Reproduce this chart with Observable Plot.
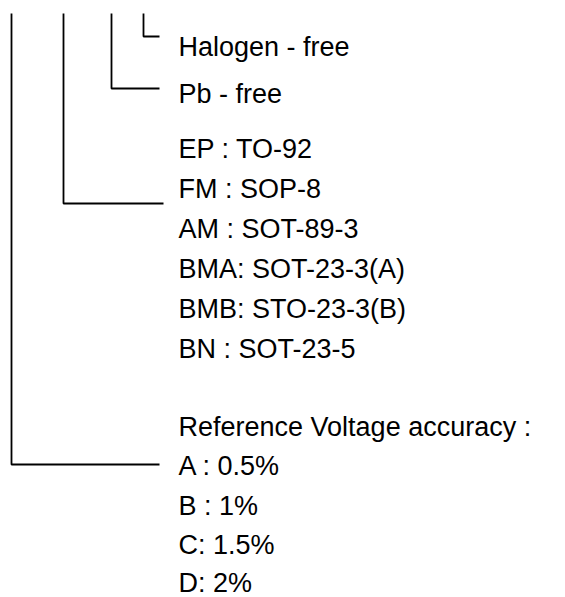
<!DOCTYPE html>
<html>
<head>
<meta charset="utf-8">
<script src="https://cdn.jsdelivr.net/npm/d3@7"></script>
<script src="https://cdn.jsdelivr.net/npm/@observablehq/plot@0.6"></script>
<style>
  html, body { margin: 0; padding: 0; background: #fff; }
  #chart svg { display: block; }
</style>
</head>
<body>
<div id="chart"></div>
<script>
// Label texts (top to bottom)
const labels = [
  "Halogen - free",
  "Pb - free",
  "EP : TO-92",
  "FM : SOP-8",
  "AM : SOT-89-3",
  "BMA: SOT-23-3(A)",
  "BMB: STO-23-3(B)",
  "BN : SOT-23-5",
  "Reference Voltage accuracy :",
  "A : 0.5%",
  "B : 1%",
  "C: 1.5%",
  "D: 2%"
];
// Baseline row position of each label (layout units)
const labelRows = [55, 102, 157, 197, 237, 277, 317, 357, 435, 474.5, 514, 553, 591];

// Bracket connectors: column, top, elbow row, end column
const connectorNames = ["accuracy", "package", "pbfree", "halogen"];
const connectorCol   = [11, 63, 111, 143];
const connectorTop   = [13, 13, 13, 13];
const connectorElbow = [464, 203, 88, 36];
const connectorEnd   = [159, 163, 159, 159];
const labelCol = 178;

const textRows = labels.map((t, i) => ({text: t, x: labelCol, y: labelRows[i]}));
const pathPts = connectorNames.flatMap((n, i) => [
  {id: n, x: connectorCol[i], y: connectorTop[i]},
  {id: n, x: connectorCol[i], y: connectorElbow[i]},
  {id: n, x: connectorEnd[i], y: connectorElbow[i]}
]);

const W = 565, H = 597;
const chart = Plot.plot({
  width: W,
  height: H,
  margin: 0,
  x: {domain: [0, W], range: [0, W], axis: null},
  y: {domain: [0, H], range: [0, H], axis: null},
  style: {fontFamily: "'Liberation Sans', Arial, sans-serif", background: "#fff"},
  marks: [
    Plot.line(pathPts, {x: "x", y: "y", z: "id", stroke: "#000", strokeWidth: 1.8, curve: "linear", strokeLinejoin: "miter", strokeLinecap: "butt"}),
    Plot.text(textRows, {x: "x", y: "y", text: "text", textAnchor: "start", lineAnchor: "bottom", fontSize: 27, fill: "#000"})
  ]
});
document.getElementById("chart").appendChild(chart);
</script>
</body>
</html>
